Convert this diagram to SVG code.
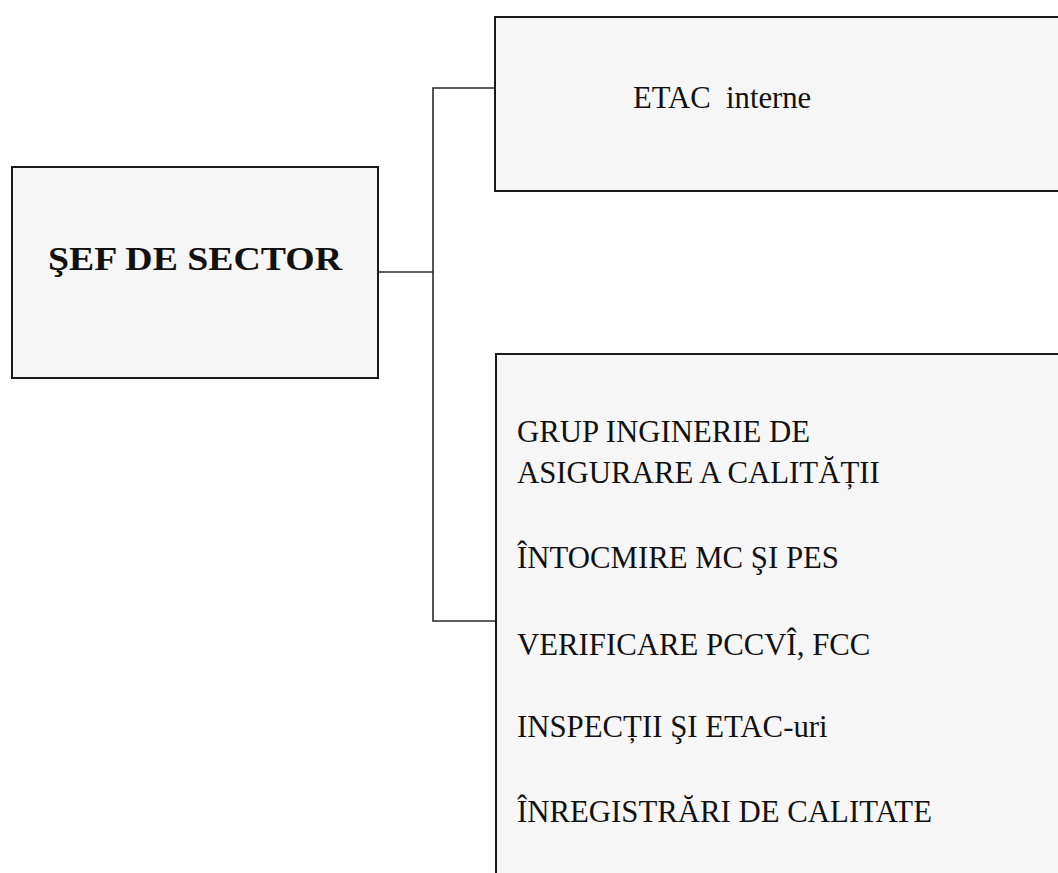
<svg xmlns="http://www.w3.org/2000/svg" width="1058" height="873" viewBox="0 0 1058 873">
<style>
.box{fill:#f7f6f6;stroke:#1a1a1a;stroke-width:2}
.conn{fill:none;stroke:#2a2a2a;stroke-width:1.6}
.t{font-family:"Liberation Serif","Times New Roman",serif;fill:#111}
</style>
<rect width="1058" height="873" fill="#ffffff"/>
<g id="connectors">
<polyline class="conn" points="378,272 433,272"/>
<polyline class="conn" points="495,88 433,88 433,621 496,621"/>
</g>
<g id="sef">
<rect class="box" x="12" y="167" width="366" height="211"/>
<text class="t" x="48" y="270" font-size="33" font-weight="bold" textLength="294" lengthAdjust="spacingAndGlyphs">ŞEF DE SECTOR</text>
</g>
<g id="etac">
<rect class="box" x="495" y="17" width="580" height="174"/>
<text class="t" x="633" y="108" font-size="30.7" xml:space="preserve">ETAC  interne</text>
</g>
<g id="grup">
<rect class="box" x="496" y="354" width="580" height="540"/>
<text class="t" font-size="30.8" x="517">
<tspan x="517" y="442">GRUP INGINERIE DE</tspan>
<tspan x="517" y="483">ASIGURARE A CALITĂȚII</tspan>
<tspan x="517" y="568">ÎNTOCMIRE MC ŞI PES</tspan>
<tspan x="517" y="655">VERIFICARE PCCVÎ, FCC</tspan>
<tspan x="517" y="737">INSPECȚII ŞI ETAC-uri</tspan>
<tspan x="517" y="822">ÎNREGISTRĂRI DE CALITATE</tspan>
</text>
</g>
</svg>
